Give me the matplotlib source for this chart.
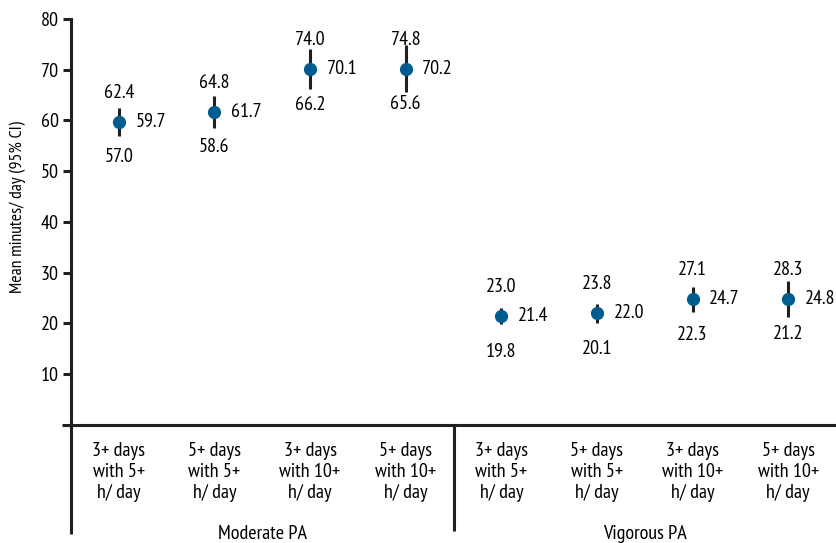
import matplotlib
matplotlib.use("Agg")
import matplotlib.pyplot as plt
from matplotlib import font_manager as fm

names = {f.name for f in fm.fontManager.ttflist}
prefs = ["PT Sans Narrow", "Roboto Condensed", "Fira Sans Condensed", "Archivo Narrow",
         "Asap Condensed", "Encode Sans Condensed", "Liberation Sans Narrow"]
FAM = [n for n in prefs if n in names][:1] or ["DejaVu Sans"]
plt.rcParams["font.family"] = FAM + ["DejaVu Sans"]

categories = ["3+ days\nwith 5+\nh/ day", "5+ days\nwith 5+\nh/ day",
              "3+ days\nwith 10+\nh/ day", "5+ days\nwith 10+\nh/ day"] * 2
groups = ["Moderate PA", "Vigorous PA"]
means = [59.7, 61.7, 70.1, 70.2, 21.4, 22.0, 24.7, 24.8]
upper = [62.4, 64.8, 74.0, 74.8, 23.0, 23.8, 27.1, 28.3]
lower = [57.0, 58.6, 66.2, 65.6, 19.8, 20.1, 22.3, 21.2]
yticks = [10, 20, 30, 40, 50, 60, 70, 80]

W, H = 836, 543
fig = plt.figure(figsize=(W / 100, H / 100), dpi=100)
x0, x1 = 71, 836
y0, y80 = 424.7, 19.0
ax = fig.add_axes([x0 / W, (H - y0) / H, (x1 - x0) / W, (y0 - y80) / H])
ax.set_xlim(0, 8)
ax.set_ylim(0, 80)

dark = "#231f20"
blue = "#005b8f"
FS = 14.5
xs = [i + 0.5 for i in range(len(means))]
for x, m, lo, hi in zip(xs, means, lower, upper):
    ax.plot([x, x], [lo, hi], color=dark, lw=2.2, solid_capstyle="butt", zorder=2)
    ax.plot([x], [m], "o", color=blue, ms=8.5, mec=blue, zorder=3)
    ax.annotate(f"{hi:.1f}", (x, m), xytext=(0, 21), textcoords="offset points",
                ha="center", va="center", fontsize=FS)
    ax.annotate(f"{lo:.1f}", (x, m), xytext=(0, -25.5), textcoords="offset points",
                ha="center", va="center", fontsize=FS)
    ax.annotate(f"{m:.1f}", (x, m), xytext=(12, 0), textcoords="offset points",
                ha="left", va="center", fontsize=FS)

for s in ["top", "right", "bottom"]:
    ax.spines[s].set_visible(False)
ax.spines["left"].set_linewidth(2.2)
ax.spines["left"].set_color(dark)
ax.set_yticks(yticks)
ax.set_yticklabels([str(t) for t in yticks], fontsize=FS)
ax.tick_params(axis="y", length=6, width=2.2, color=dark, pad=3)
ax.set_xticks([])

# baseline and extended frame lines
ax.plot([-0.09, 8], [0, 0], color=dark, lw=2.2, clip_on=False, solid_capstyle="butt")
ax.plot([0, 0], [0, -21.5], color=dark, lw=2.2, clip_on=False, solid_capstyle="butt")
ax.plot([4, 4], [0, -20.9], color=dark, lw=2.2, clip_on=False, solid_capstyle="butt")

for x, lab in zip(xs, categories):
    ax.text(x, -9.4, lab, ha="center", va="center", fontsize=FS, linespacing=1.22)
for i, g in enumerate(groups):
    ax.text(2 + 4 * i, -21.5, g, ha="center", va="center", fontsize=FS)

fig.text(18 / W, 1 - 207 / H, "Mean minutes/ day (95% CI)", rotation=90,
         ha="center", va="center", fontsize=12.8)

fig.savefig("out.png", dpi=100)
